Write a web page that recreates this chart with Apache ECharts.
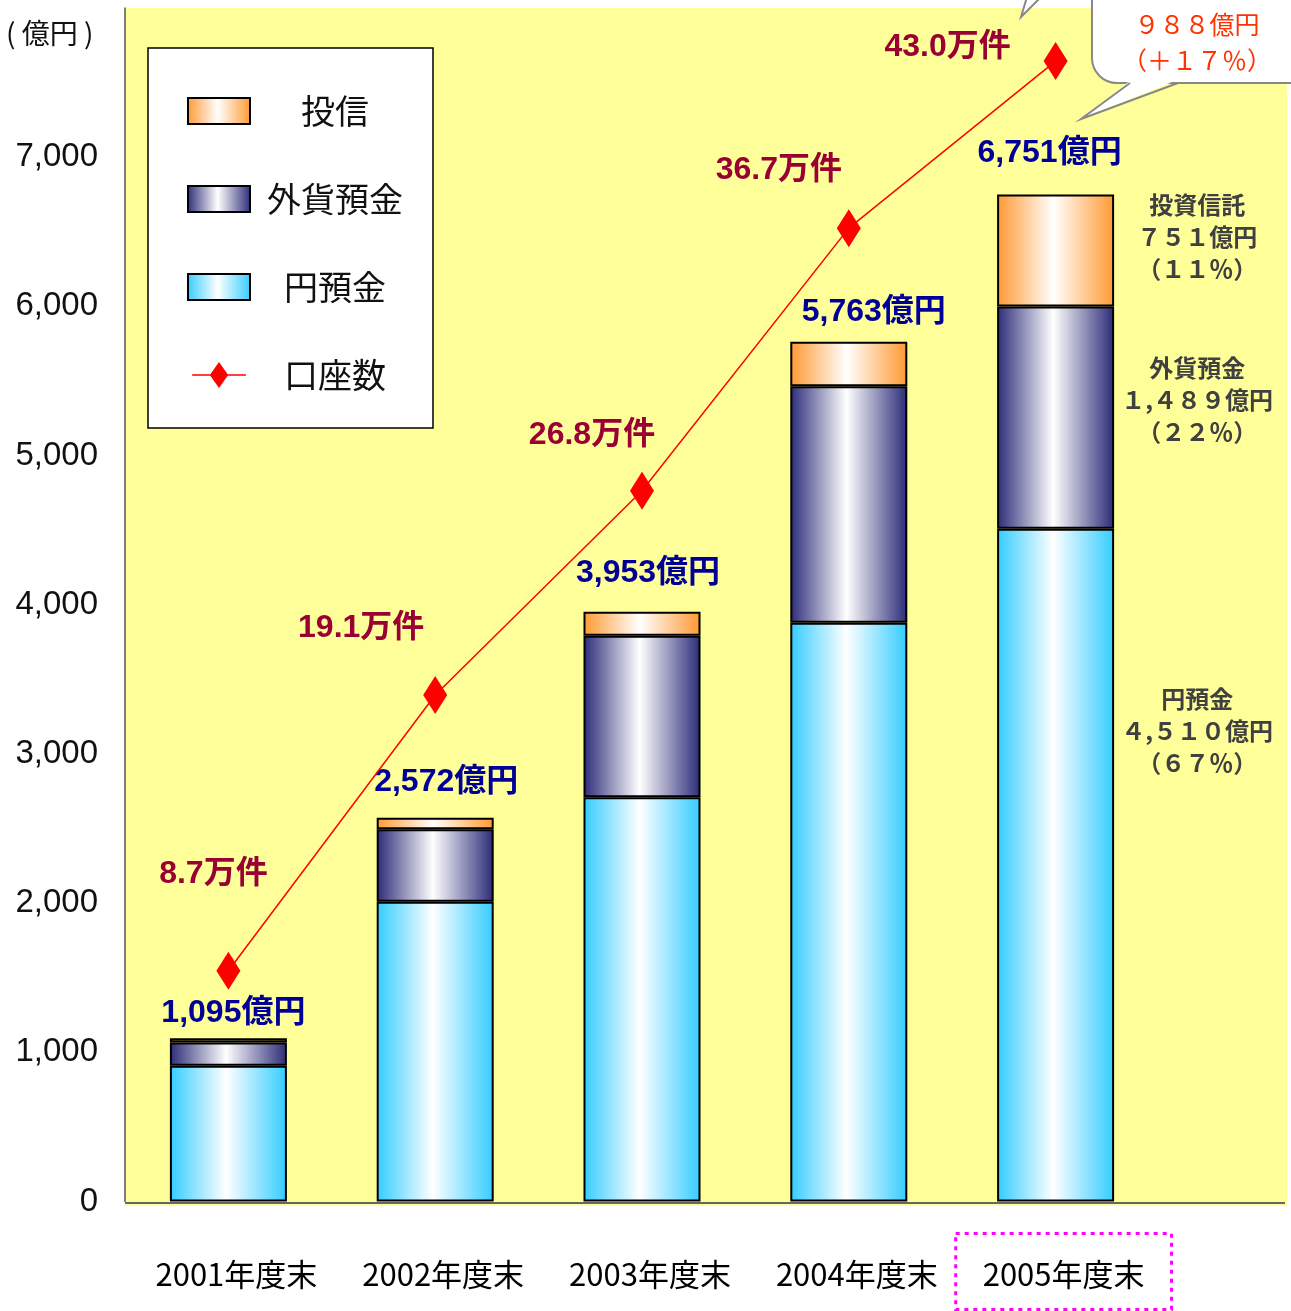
<!DOCTYPE html>
<html lang="ja">
<head>
<meta charset="UTF-8">
<script src="https://cdn.jsdelivr.net/npm/echarts@6/dist/echarts.min.js"></script>
<style>html,body{margin:0;padding:0;background:#fff;}</style>
</head>
<body>
<div id="main" style="width:1291px;height:1311px;"></div>
<script type="text/javascript">
    // データ
    var categories = ['2001年度末', '2002年度末', '2003年度末', '2004年度末', '2005年度末'];
    var yenDeposit = [910, 2010, 2710, 3880, 4510];      // 円預金
    var fxDeposit = [155, 485, 1083, 1585, 1489];        // 外貨預金
    var investTrust = [30, 77, 160, 298, 751];           // 投信
    var totals = [1095, 2572, 3953, 5763, 6751];         // 合計(億円)
    var accounts = [8.7, 19.1, 26.8, 36.7, 43.0];        // 口座数(万件)
    var sharePct = [67, 22, 11];                         // 2005年度末の構成比 円預金/外貨預金/投資信託
    var yTicks = [0, 1000, 2000, 3000, 4000, 5000, 6000, 7000];

    // ラベル位置の調整(ピクセル)
    var accountLabelOffset = [[-15, -97], [-74, -67], [-50, -56], [-70, -58], [-108, -14]];
    var totalLabelOffset = [[5, 2], [11, -9], [6, -12], [25, -3], [-6, -14]];

    var FONT = '"Liberation Sans", "Noto Sans CJK JP", sans-serif';
    var CJK = '"Noto Sans CJK JP", "Liberation Sans", sans-serif';
    var last = categories.length - 1;

    function fmt(v) { return v.toLocaleString('en-US'); }
    function wide(s) {
        return String(s).replace(/[0-9]/g, function (d) { return String.fromCharCode(d.charCodeAt(0) + 0xFEE0); });
    }
    function grad(edge) {
        return {
            type: 'linear', x: 0, y: 0, x2: 1, y2: 0,
            colorStops: [
                {offset: 0, color: edge},
                {offset: 0.48, color: '#ffffff'},
                {offset: 1, color: edge}
            ]
        };
    }
    function noteLabel(title, value, pct, posY) {
        return {
            show: true,
            position: ['171%', posY],
            align: 'center',
            verticalAlign: 'middle',
            color: '#404040',
            fontFamily: CJK,
            fontWeight: 'bold',
            fontSize: 24,
            lineHeight: 32,
            formatter: title + '\n' + wide(fmt(value)) + '億円\n（' + wide(pct) + '％）'
        };
    }
    function withNote(arr, title, pct, posY) {
        return arr.map(function (v, i) {
            return i === last ? {value: v, label: noteLabel(title, v, pct, posY)} : v;
        });
    }

    var barBorder = {borderColor: '#000000', borderWidth: 2};
    var growth = totals[last] - totals[last - 1];
    var growthPct = Math.round(growth / totals[last - 1] * 100);

    var myChart = echarts.init(document.getElementById('main'));

    var option = {
        animation: false,
        textStyle: {fontFamily: FONT},
        grid: {left: 125, right: 132, top: 8, bottom: 108},
        legend: {
            data: [
                {name: '投信', icon: 'rect'},
                {name: '外貨預金', icon: 'rect'},
                {name: '円預金', icon: 'rect'},
                {name: '口座数', icon: 'path://M0,14 L21,14 L31,0 L41,14 L62,14 L62,16 L41,16 L31,30 L21,16 L0,16 Z'}
            ],
            orient: 'vertical',
            left: 148,
            top: 48,
            backgroundColor: '#ffffff',
            borderColor: '#000000',
            borderWidth: 1.5,
            padding: [46, 30, 36, 39],
            itemWidth: 62,
            itemHeight: 26,
            itemGap: 54,
            selectedMode: false,
            formatter: '{t|{name}}',
            textStyle: {
                rich: {
                    t: {width: 160, align: 'center', fontSize: 34, fontFamily: CJK, color: '#111111'}
                }
            }
        },
        xAxis: {
            type: 'category',
            data: categories,
            axisLine: {show: false},
            axisTick: {show: false},
            axisLabel: {
                interval: 0,
                margin: 32,
                formatter: function (v, i) {
                    return '{sp| }' + (i === last ? '{hl|' + v + '}' : '{n|' + v + '}');
                },
                rich: {
                    sp: {width: 16, fontSize: 30},
                    n: {fontSize: 31, fontFamily: CJK, color: '#000000', padding: [25, 27, 20, 27]},
                    hl: {
                        fontSize: 31, fontFamily: CJK, color: '#000000', padding: [25, 27, 20, 27],
                        borderColor: '#ff00ff', borderWidth: 3, borderType: [4, 5]
                    }
                }
            }
        },
        yAxis: [{
            type: 'value',
            min: 0,
            max: 8000,
            interval: 1000,
            axisLine: {show: true, lineStyle: {color: '#555555', width: 1.5}},
            axisTick: {show: false},
            splitLine: {show: false},
            axisLabel: {
                margin: 27,
                fontSize: 33,
                color: '#111111',
                fontFamily: FONT,
                formatter: function (v) { return yTicks.indexOf(v) >= 0 ? fmt(v) : ''; }
            }
        }, {
            type: 'value',
            min: 0,
            max: 45,
            show: false
        }],
        series: [{
            name: '円預金',
            type: 'bar',
            stack: 'amount',
            barWidth: 117,
            itemStyle: Object.assign({color: grad('#33ccff')}, barBorder),
            data: withNote(yenDeposit, '円預金', sharePct[0], '30%')
        }, {
            name: '外貨預金',
            type: 'bar',
            stack: 'amount',
            barWidth: 117,
            itemStyle: Object.assign({color: grad('#2b2b78')}, barBorder),
            data: withNote(fxDeposit, '外貨預金', sharePct[1], '42%')
        }, {
            name: '投信',
            type: 'bar',
            stack: 'amount',
            barWidth: 117,
            itemStyle: Object.assign({color: grad('#ff9933')}, barBorder),
            data: withNote(investTrust, '投資信託', sharePct[2], '38%')
        }, {
            name: '合計',
            type: 'scatter',
            symbolSize: 0,
            silent: true,
            z: 6,
            itemStyle: {opacity: 1},
            label: {
                show: true,
                position: 'top',
                distance: 11,
                color: '#000099',
                opacity: 1,
                fontWeight: 'bold',
                fontSize: 32,
                fontFamily: FONT,
                formatter: function (p) { return fmt(p.value) + '億円'; }
            },
            data: totals.map(function (v, i) {
                return {value: v, label: {offset: totalLabelOffset[i]}};
            })
        }, {
            name: '口座数',
            type: 'line',
            yAxisIndex: 1,
            z: 8,
            symbol: 'diamond',
            symbolSize: [24, 38],
            lineStyle: {color: '#ff0000', width: 1.5},
            itemStyle: {color: '#ff0000'},
            label: {
                show: true,
                position: 'inside',
                color: '#990033',
                fontWeight: 'bold',
                fontSize: 32,
                fontFamily: FONT,
                formatter: function (p) { return p.value.toFixed(1) + '万件'; }
            },
            data: accounts.map(function (v, i) {
                return {value: v, label: {offset: accountLabelOffset[i]}};
            })
        }],
        graphic: [{
            type: 'rect',
            z: -10,
            silent: true,
            shape: {x: 125, y: 8, width: 1162, height: 1198},
            style: {fill: '#ffff99'}
        }, {
            type: 'line',
            z: 1,
            silent: true,
            shape: {x1: 125, y1: 1203, x2: 1285, y2: 1203},
            style: {stroke: '#666666', lineWidth: 2}
        }, {
            type: 'text',
            silent: true,
            style: {text: '( 億円 )', x: 6, y: 33, verticalAlign: 'middle', fontSize: 28, fontFamily: CJK, fill: '#111111'}
        }, {
            type: 'polygon',
            z: 20,
            silent: true,
            shape: {points: [[1021, 17], [1027, -3], [1041, -3]]},
            style: {fill: '#ffffff', stroke: '#888888', lineWidth: 2}
        }, {
            type: 'rect',
            z: 20,
            silent: true,
            shape: {x: 1092, y: -25, width: 230, height: 108, r: 25},
            style: {fill: '#ffffff', stroke: '#888888', lineWidth: 2}
        }, {
            type: 'polygon',
            z: 21,
            silent: true,
            shape: {points: [[1131, 80], [1081, 119], [1177, 80]]},
            style: {fill: '#ffffff'}
        }, {
            type: 'polyline',
            z: 22,
            silent: true,
            shape: {points: [[1130, 83], [1081, 119], [1178, 83]]},
            style: {stroke: '#888888', lineWidth: 2, fill: null}
        }, {
            type: 'text',
            z: 23,
            silent: true,
            style: {
                text: wide(growth) + '億円\n（＋' + wide(growthPct) + '％）',
                x: 1197, y: 42, align: 'center', verticalAlign: 'middle',
                fontSize: 25, lineHeight: 36, fontFamily: CJK, fill: '#ff3300'
            }
        }]
    };

    myChart.setOption(option);
</script>
</body>
</html>
